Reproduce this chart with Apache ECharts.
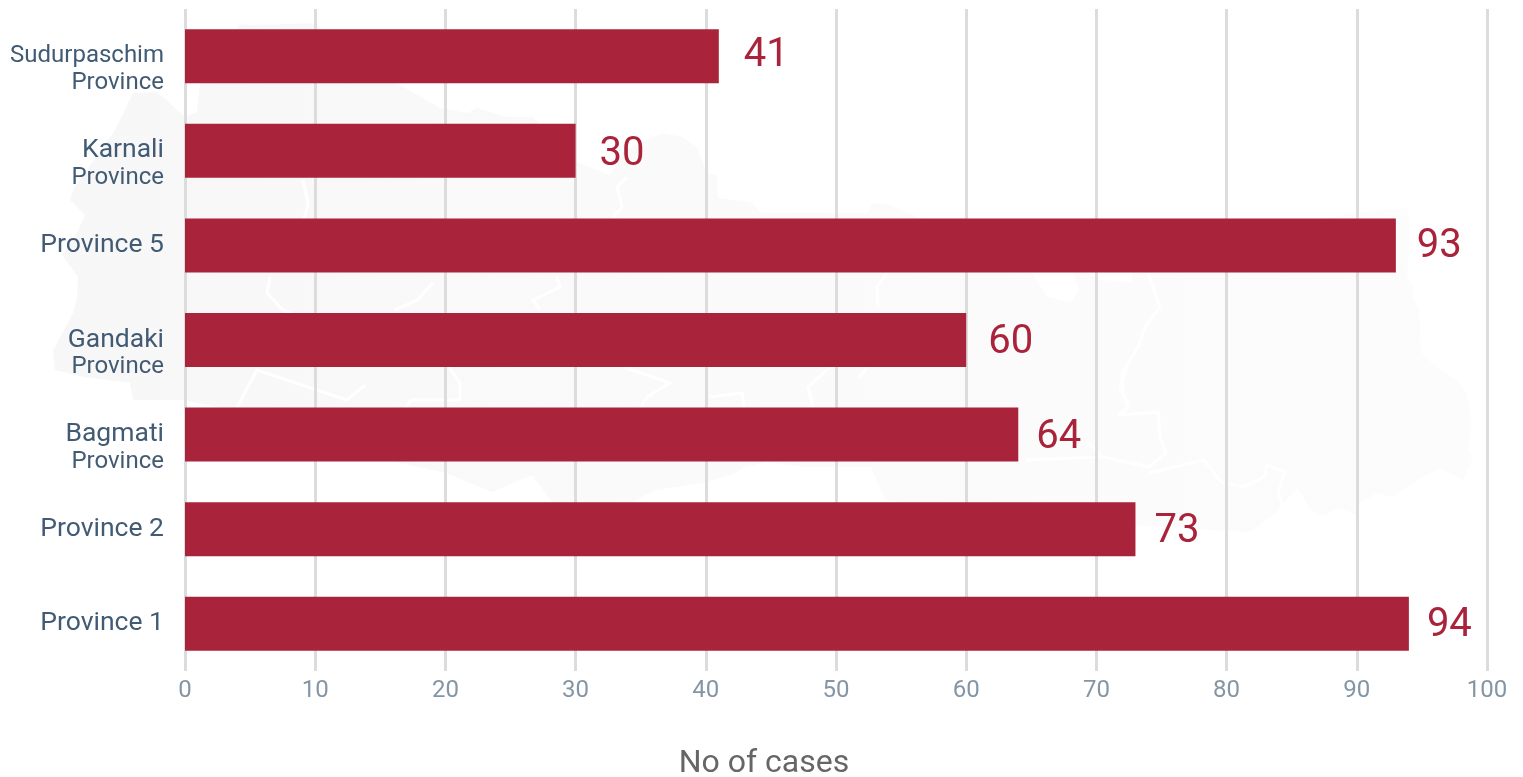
<!DOCTYPE html>
<html>
<head>
<meta charset="utf-8">
<style>html,body{margin:0;padding:0;background:#fff}#c{width:1523px;height:777px}</style>
<script src="https://cdn.jsdelivr.net/npm/echarts@6/dist/echarts.min.js"></script>
</head>
<body>
<div id="c"></div>
<script>
const categories = ['Province 1','Province 2','Bagmati\nProvince','Gandaki\nProvince','Province 5','Karnali\nProvince','Sudurpaschim\nProvince'];
const cases = [94,73,64,60,93,30,41];
const xTicks = {min:0,max:100,interval:10};
const axisName = 'No of cases';

// Label placement, kept apart from the values
const labelGap = [18,19,18,22,21,24,25];
const labelShift = [2,3,3,3,2,4,0];

// Faint background map of Nepal (decoration only)
const mapOutline = [[240,24],[253,25],[317,23],[320,28],[400,85],[440,108],[467,113],[477,108],[507,117],[533,117],[577,162],[610,175],[625,150],[653,137],[663,133],[683,137],[697,147],[707,173],[717,175],[718,198],[750,202],[762,213],[867,213],[873,203],[890,205],[960,235],[1031,250],[1031,272],[1048,297],[1070,302],[1079,290],[1069,260],[1086,260],[1086,272],[1100,280],[1131,282],[1134,260],[1353,213],[1383,210],[1407,208],[1410,230],[1407,277],[1414,288],[1412,295],[1419,310],[1421,352],[1431,362],[1457,380],[1467,393],[1472,423],[1468,450],[1473,458],[1463,480],[1440,468],[1423,477],[1410,485],[1393,497],[1377,493],[1360,503],[1357,515],[1340,508],[1323,515],[1310,510],[1298,488],[1282,505],[1277,512],[1263,523],[1250,532],[1130,525],[1000,515],[885,500],[871,467],[802,467],[767,462],[744,467],[736,473],[704,483],[655,490],[600,520],[552,502],[532,475],[492,492],[446,473],[400,463],[330,430],[183,400],[133,400],[130,383],[83,377],[55,370],[53,350],[73,313],[77,298],[78,277],[62,255],[77,233],[85,215],[70,200],[73,190],[115,130],[133,93],[157,92],[163,97],[185,117],[197,112],[200,83]];
const mapBorders = [
 [[303,180],[308,203],[303,225]],
 [[270,277],[267,293],[283,310],[330,330]],
 [[237,407],[257,370],[347,400],[365,385]],
 [[433,283],[417,300],[395,310]],
 [[627,177],[617,187],[622,207],[613,217]],
 [[557,277],[560,287],[533,300],[540,310]],
 [[887,273],[877,287],[878,307]],
 [[1148,273],[1160,307],[1145,327],[1138,347],[1122,373],[1124,397],[1129,403]],
 [[449,367],[460,383],[460,400],[411,400],[403,412]],
 [[624,367],[670,383],[647,397],[641,407]],
 [[710,397],[742,393],[744,407]],
 [[830,367],[808,387],[813,407]],
 [[859,377],[868,367]],
 [[1129,360],[1120,387],[1129,407],[1118,415]],
 [[1118,415],[1158,412],[1160,437],[1166,453],[1149,467],[1103,457],[1089,443]],
 [[1149,473],[1204,460],[1221,482],[1244,487],[1264,477],[1267,465],[1285,472],[1278,493],[1283,507]],
 [[1103,457],[1026,460]]
];

const mapGraphics = [{type:'polygon',z:-2,silent:true,shape:{points:mapOutline},
  style:{fill:new echarts.graphic.LinearGradient(0,0,1,0,[{offset:0,color:'#f7f7f7'},{offset:0.4,color:'#fafafa'},{offset:1,color:'#fcfcfc'}])}}]
  .concat(mapBorders.map(points=>({type:'polyline',z:-1,silent:true,shape:{points},style:{stroke:'#ffffff',lineWidth:3,fill:null}})));

const chart = echarts.init(document.getElementById('c'), null, {renderer:'canvas'});
chart.setOption({
  animation:false,
  textStyle:{fontFamily:'Roboto'},
  grid:{left:185,right:36,top:9,height:662,outerBoundsMode:'none',containLabel:false},
  graphic:mapGraphics,
  xAxis:{type:'value',min:xTicks.min,max:xTicks.max,interval:xTicks.interval,
    name:axisName,nameLocation:'middle',nameGap:77,
    nameTextStyle:{fontSize:32,color:'#666',fontFamily:'Roboto',padding:[0,144,0,0]},
    axisLine:{show:false},axisTick:{show:false},
    axisLabel:{fontSize:24,color:'#8496a5',margin:8,fontFamily:'Roboto'},
    splitLine:{show:true,lineStyle:{color:'#dcdcdc',width:3}}},
  yAxis:{type:'category',data:categories,axisLine:{show:false},axisTick:{show:false},
    axisLabel:{margin:21,align:'right',fontFamily:'Roboto',
      formatter:v=>{
        const p=v.split('\n');
        if(p.length<2) return `{a|${v}}`;
        const first=p[0].length>8?'b':'a';
        return `{c| }\n{${first}|${p[0]}}\n{b|${p[1]}}`;
      },
      rich:{a:{fontSize:26.5,color:'#425b74',fontFamily:'Roboto',lineHeight:27,align:'right'},
            b:{fontSize:24,color:'#425b74',fontFamily:'Roboto',lineHeight:27,align:'right'},
            c:{fontSize:10,lineHeight:27,align:'right'}}}},
  series:[{type:'bar',barWidth:54,itemStyle:{color:'#a9233b'},
    data:cases.map((value,i)=>({value,label:{distance:labelGap[i],offset:[0,labelShift[i]]}})),
    label:{show:true,position:'right',fontSize:40,color:'#a9233b',fontFamily:'Roboto'}}]
});
</script>
</body>
</html>
